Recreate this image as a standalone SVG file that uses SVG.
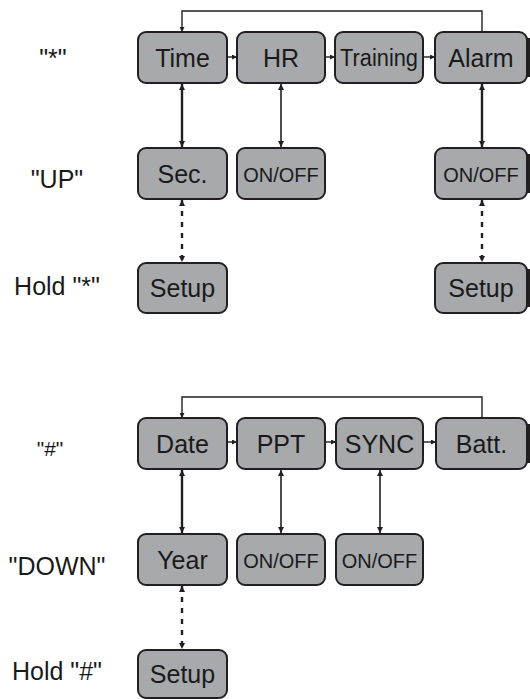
<svg xmlns="http://www.w3.org/2000/svg" width="530" height="699" viewBox="0 0 530 699">
  <style>
    .box { fill: #a7a9ac; stroke: #231f20; stroke-width: 2; }
    .edge { fill: #231f20; }
    .lbl { font-family: "Liberation Sans", Arial, sans-serif; font-size: 25px; fill: #1a1a1a; text-anchor: middle; }
    .sm { font-size: 20px; }
    .key { font-family: "Liberation Sans", Arial, sans-serif; font-size: 25px; fill: #1a1a1a; text-anchor: middle; }
    .wire { fill: none; stroke: #231f20; stroke-width: 1.4; }
    .link { fill: none; stroke: #231f20; stroke-width: 1.6; marker-start: url(#head); marker-end: url(#head); }
    .bold { stroke-width: 2.4; }
    .dash { fill: none; stroke: #231f20; stroke-width: 2.4; stroke-dasharray: 5 6; marker-start: url(#head); marker-end: url(#head); }
    .step { fill: none; stroke: #231f20; stroke-width: 1.4; marker-end: url(#tip); }
  </style>
  <defs>
    <marker id="head" viewBox="0 0 10 10" refX="10" refY="5" markerUnits="userSpaceOnUse" markerWidth="8" markerHeight="6" orient="auto-start-reverse">
      <path d="M0,0 L10,5 L0,10 z" fill="#231f20"/>
    </marker>
    <marker id="tip" viewBox="0 0 10 10" refX="10" refY="5" markerUnits="userSpaceOnUse" markerWidth="6" markerHeight="5" orient="auto">
      <path d="M0,0 L10,5 L0,10 z" fill="#231f20"/>
    </marker>
  </defs>

  <!-- key labels on the left -->
  <g id="keys">
    <text class="key" x="53" y="67">"*"</text>
    <text class="key" x="57" y="188">"UP"</text>
    <text class="key" x="57" y="295">Hold "*"</text>
    <text class="key" x="50" y="456" style="font-size:21px">"#"</text>
    <text class="key" x="57" y="575">"DOWN"</text>
    <text class="key" x="57" y="680">Hold "#"</text>
  </g>

  <!-- connectors -->
  <g id="connectors">
    <!-- upper menu loop -->
    <path class="step" d="M482,32 V11 H182 V32"/>
    <path class="step" d="M227,57 H237"/>
    <path class="step" d="M325,57 H335"/>
    <path class="step" d="M423,57 H435"/>
    <path class="link bold" d="M182,84 V147"/>
    <path class="link" d="M281,84 V147"/>
    <path class="link bold" d="M482,84 V147"/>
    <path class="dash" d="M182,200 V262"/>
    <path class="dash" d="M482,200 V262"/>
    <!-- lower menu loop -->
    <path class="step" d="M482,418 V397 H182 V418"/>
    <path class="step" d="M227,442 H237"/>
    <path class="step" d="M325,442 H336"/>
    <path class="step" d="M423,442 H436"/>
    <path class="link bold" d="M182,470 V533"/>
    <path class="link" d="M281,470 V533"/>
    <path class="link" d="M380,470 V533"/>
    <path class="dash" d="M182,586 V649"/>
  </g>

  <!-- upper menu -->
  <g id="time"><rect class="box" x="138" y="32" width="89" height="51" rx="8"/><text class="lbl" x="182.5" y="66.5">Time</text></g>
  <g id="hr"><rect class="box" x="237" y="32" width="88" height="51" rx="8"/><text class="lbl" x="281" y="66.5">HR</text></g>
  <g id="training"><rect class="box" x="335" y="32" width="88" height="51" rx="8"/><text class="lbl" x="379" y="65.5" style="font-size:23px" textLength="78" lengthAdjust="spacingAndGlyphs">Training</text></g>
  <g id="alarm"><rect class="box" x="435" y="32" width="92" height="51" rx="8"/><rect class="edge" x="527" y="38" width="3" height="39"/><text class="lbl" x="481" y="66.5">Alarm</text></g>

  <g id="sec"><rect class="box" x="138" y="148" width="89" height="51" rx="8"/><text class="lbl" x="182.5" y="182.5">Sec.</text></g>
  <g id="hr-onoff"><rect class="box" x="237" y="148" width="88" height="51" rx="8"/><text class="lbl sm" x="281" y="181.5">ON/OFF</text></g>
  <g id="alarm-onoff"><rect class="box" x="435" y="148" width="92" height="51" rx="8"/><rect class="edge" x="527" y="154" width="3" height="39"/><text class="lbl sm" x="481" y="181.5">ON/OFF</text></g>

  <g id="time-setup"><rect class="box" x="138" y="263" width="89" height="50" rx="8"/><text class="lbl" x="182.5" y="297">Setup</text></g>
  <g id="alarm-setup"><rect class="box" x="435" y="263" width="92" height="50" rx="8"/><rect class="edge" x="527" y="269" width="3" height="38"/><text class="lbl" x="481" y="297">Setup</text></g>

  <!-- lower menu -->
  <g id="date"><rect class="box" x="138" y="418" width="89" height="51" rx="8"/><text class="lbl" x="182.5" y="452.5">Date</text></g>
  <g id="ppt"><rect class="box" x="237" y="418" width="88" height="51" rx="8"/><text class="lbl" x="281" y="452.5">PPT</text></g>
  <g id="sync"><rect class="box" x="336" y="418" width="87" height="51" rx="8"/><text class="lbl" x="379.5" y="452.5">SYNC</text></g>
  <g id="batt"><rect class="box" x="436" y="418" width="91" height="51" rx="8"/><rect class="edge" x="527" y="424" width="3" height="39"/><text class="lbl" x="481.5" y="452.5">Batt.</text></g>

  <g id="year"><rect class="box" x="138" y="534" width="89" height="51" rx="8"/><text class="lbl" x="182.5" y="568.5">Year</text></g>
  <g id="ppt-onoff"><rect class="box" x="237" y="534" width="88" height="51" rx="8"/><text class="lbl sm" x="281" y="567.5">ON/OFF</text></g>
  <g id="sync-onoff"><rect class="box" x="336" y="534" width="87" height="51" rx="8"/><text class="lbl sm" x="379.5" y="567.5">ON/OFF</text></g>

  <g id="date-setup"><rect class="box" x="138" y="650" width="89" height="48" rx="8"/><text class="lbl" x="182.5" y="683">Setup</text></g>
</svg>
